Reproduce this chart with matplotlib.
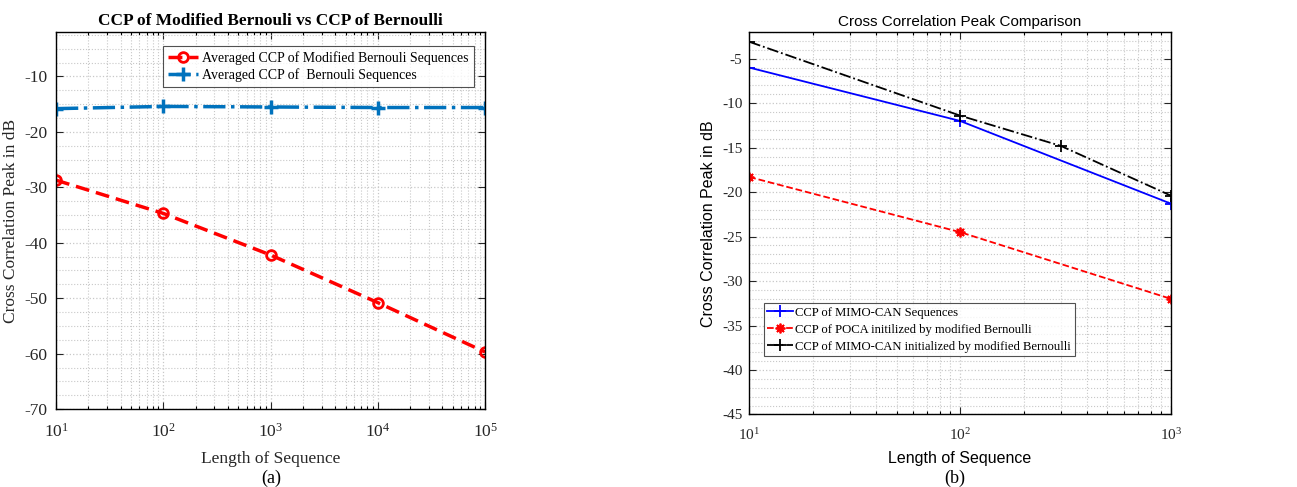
import numpy as np
import matplotlib
matplotlib.use('Agg')
import matplotlib.pyplot as plt
from matplotlib.ticker import MultipleLocator, LogLocator, NullFormatter

plt.rcParams['font.family'] = ['Liberation Serif', 'DejaVu Serif']
plt.rcParams['mathtext.fontset'] = 'custom'
plt.rcParams['mathtext.rm'] = 'Liberation Serif'
plt.rcParams['mathtext.it'] = 'Liberation Serif:italic'
plt.rcParams['axes.unicode_minus'] = False

# (a) averaged CCP vs sequence length
len_a = [10, 100, 1000, 10000, 100000]
ccp_mod_bern = [-28.7, -34.7, -42.2, -50.8, -59.7]
ccp_bern = [-15.8, -15.4, -15.5, -15.6, -15.6]

# (b) cross correlation peak comparison
len_can = [10, 100, 1000]
ccp_mimo_can = [-6.0, -12.0, -21.3]
len_poca = [10, 100, 1000]
ccp_poca = [-18.3, -24.5, -32.0]
len_can_init = [10, 100, 300, 1000]
ccp_can_init = [-3.1, -11.4, -14.8, -20.4]

GRID = '#c8c8c8'
MBLUE = (0, 0.447, 0.741)
SANS = ['Liberation Sans', 'DejaVu Sans']


def style_axes(ax, ystep, yminor):
    ax.set_xscale('log')
    ax.yaxis.set_major_locator(MultipleLocator(ystep))
    ax.yaxis.set_minor_locator(MultipleLocator(yminor))
    ax.xaxis.set_minor_locator(LogLocator(base=10, subs=np.arange(2, 10)))
    ax.xaxis.set_minor_formatter(NullFormatter())
    ax.grid(True, which='major', linestyle=':', color=GRID, linewidth=0.9)
    ax.grid(True, which='minor', linestyle=':', color=GRID, linewidth=0.8)
    ax.tick_params(direction='in', top=True, right=True, which='both', width=0.8)
    ax.tick_params(which='major', length=5)
    ax.tick_params(axis='x', which='minor', length=2.5)
    ax.tick_params(axis='y', which='minor', length=0)
    for s in ax.spines.values():
        s.set_linewidth(1.0)
    ax.set_axisbelow(True)


fig = plt.figure(figsize=(12.97, 4.87), dpi=100)

# ---- panel (a)
ax1 = fig.add_axes([0.0432, 0.160, 0.3308, 0.774])
ax1.plot(len_a, ccp_mod_bern, color='red', linestyle='--', linewidth=2.5,
         marker='o', markersize=7, markerfacecolor='none', markeredgewidth=2,
         dashes=(4, 2), label='Averaged CCP of Modified Bernouli Sequences')
ax1.plot(len_a, ccp_bern, color=MBLUE, linestyle='-.', linewidth=2.5,
         marker='+', markersize=10, markeredgewidth=2.5,
         label='Averaged CCP of  Bernouli Sequences')
style_axes(ax1, 10, 2.5)
ax1.set_xlim(10, 1e5)
ax1.set_ylim(-70, -2)
ax1.tick_params(labelsize=12.5, colors='#262626', labelcolor='#262626')
ax1.tick_params(axis='x', which='major', pad=10)
ax1.tick_params(axis='y', which='major', pad=6)
ax1.set_title('CCP of Modified Bernouli vs CCP of Bernoulli',
              fontsize=12.4, fontweight='bold', pad=5)
ax1.set_xlabel('Length of Sequence', fontsize=12.5, color='#262626', labelpad=7)
ax1.set_ylabel('Cross Correlation Peak in dB', fontsize=12.5, color='#262626', labelpad=4)
leg1 = ax1.legend(loc='upper left', bbox_to_anchor=(0.249, 0.962), fontsize=10,
                  frameon=True, fancybox=False, edgecolor='#262626',
                  handlelength=2.2, handletextpad=0.3, borderpad=0.35,
                  labelspacing=0.2, borderaxespad=0)
leg1.get_frame().set_linewidth(0.8)

# ---- panel (b)
ax2 = fig.add_axes([0.5777, 0.1489, 0.3251, 0.7854])
ax2.plot(len_can, ccp_mimo_can, color='blue', linestyle='-', linewidth=1.3,
         marker='+', markersize=8, markeredgewidth=1.3,
         label='CCP of MIMO-CAN Sequences')
ax2.plot(len_poca, ccp_poca, color='red', linestyle='--', linewidth=1.3,
         marker=(8, 2, 0), markersize=7, markeredgewidth=1.3,
         label='CCP of POCA initilized by modified Bernoulli')
ax2.plot(len_can_init, ccp_can_init, color='black', linestyle='-.', linewidth=1.3,
         marker='+', markersize=8, markeredgewidth=1.3,
         label='CCP of MIMO-CAN initialized by modified Bernoulli')
style_axes(ax2, 5, 1)
ax2.set_xlim(10, 1000)
ax2.set_ylim(-45, -2)
ax2.tick_params(labelsize=11, colors='#262626', labelcolor='#262626')
ax2.tick_params(axis='x', which='major', pad=9)
ax2.tick_params(axis='y', which='major', pad=5)
ax2.set_title('Cross Correlation Peak Comparison', fontsize=11,
              family=SANS, pad=4)
ax2.set_xlabel('Length of Sequence', fontsize=11.5, family=SANS, labelpad=6)
ax2.set_ylabel('Cross Correlation Peak in dB', fontsize=11.5, family=SANS, labelpad=4)
leg2 = ax2.legend(loc='upper left', bbox_to_anchor=(0.034, 0.292), fontsize=9.1,
                  frameon=True, fancybox=False, edgecolor='#262626',
                  handlelength=2.0, handletextpad=0.2, borderpad=0.3,
                  labelspacing=0.4, borderaxespad=0)
leg2.get_frame().set_linewidth(0.8)

# captions
fig.text(0.209, 0.0185, '(a)', ha='center', va='center', fontsize=13)
fig.text(0.736, 0.0185, '(b)', ha='center', va='center', fontsize=13)

fig.savefig('out.png', dpi=100)
